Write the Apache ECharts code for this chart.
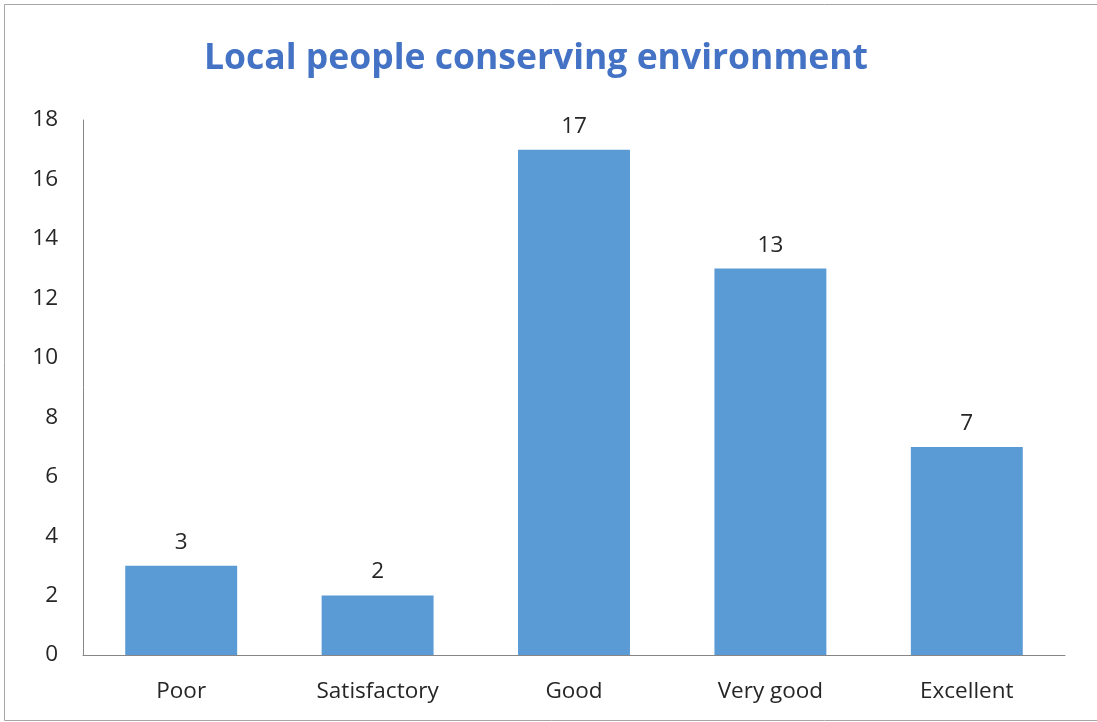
<!DOCTYPE html>
<html><head><meta charset="utf-8">
<script src="https://cdn.jsdelivr.net/npm/echarts@6/dist/echarts.min.js"></script>
<style>html,body{margin:0;padding:0;background:#fff}#c{width:1097px;height:722px}</style>
</head><body><div id="c"></div>
<script>
const categories = ['Poor', 'Satisfactory', 'Good', 'Very good', 'Excellent'];
const values = [3, 2, 17, 13, 7];
const titleText = 'Local people conserving environment';
const yTicks = { min: 0, max: 18, interval: 2 };

const chart = echarts.init(document.getElementById('c'));
chart.setOption({
  backgroundColor: '#fff',
  animation: false,
  title: {
    text: titleText, left: 531, top: 36, textAlign: 'center',
    textStyle: { fontFamily: 'Open Sans', fontWeight: 'bold', fontSize: 35.5, color: '#4472C4' }
  },
  graphic: [{ type: 'rect', shape: { x: 4.5, y: 4.5, width: 1200, height: 716 }, style: { fill: 'none', stroke: '#a6a6a6', lineWidth: 1 }, silent: true }],
  grid: { left: 83, right: 32, top: 120, bottom: 67, containLabel: false },
  xAxis: {
    type: 'category', data: categories,
    axisLine: { lineStyle: { color: '#868686', width: 1 } },
    axisTick: { show: false },
    axisLabel: { fontFamily: 'Open Sans', fontSize: 22.5, color: '#262626', margin: 25 }
  },
  yAxis: {
    type: 'value', min: yTicks.min, max: yTicks.max, interval: yTicks.interval,
    axisLine: { show: true, lineStyle: { color: '#868686', width: 1 } },
    axisTick: { show: false },
    splitLine: { show: false },
    axisLabel: { fontFamily: 'Open Sans', fontSize: 22.5, color: '#262626', margin: 25, padding: [8, 0, 0, 0] }
  },
  series: [{
    type: 'bar', data: values, barWidth: '57%',
    itemStyle: { color: '#5B9BD5' },
    label: { show: true, position: 'top', distance: 12, fontFamily: 'Open Sans', fontSize: 22.5, color: '#262626' }
  }]
});
</script></body></html>
